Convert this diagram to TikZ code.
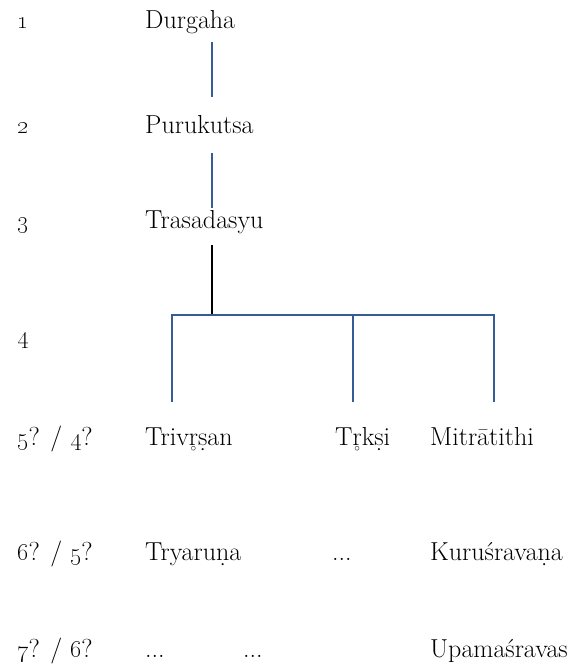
\documentclass[tikz,border=0pt]{standalone}
\usepackage{tikz}
\usetikzlibrary{positioning,calc}
\definecolor{lineblue}{RGB}{54,92,150}

% r with a ring below
\newcommand\ringbelow[1]{\leavevmode\raisebox{0pt}[\height][0pt]{\vtop{\offinterlineskip\halign{\hfil##\hfil\cr#1\cr\noalign{\kern1.5pt}\scalebox{0.45}{$\circ$}\cr}}}}

\tikzset{
  gen/.style={anchor=base west, inner sep=0pt, font=\fontsize{26}{30}\selectfont},
  tie/.style={lineblue, line width=1.6pt},
}

\begin{document}
\begin{tikzpicture}[x=1pt, y=-1pt]
        \useasboundingbox (0,0) rectangle (578,665);
        % generation numbers
        \node[gen] (g1) at (17,28) {\oldstylenums{1}};
        \node[gen] (g2) at (17,133) {\oldstylenums{2}};
        \node[gen] (g3) at (17,228) {\oldstylenums{3}};
        \node[gen] (g4) at (17,343) {\oldstylenums{4}};
        \node[gen] (g5) at (17,445) {\oldstylenums{5}? / \oldstylenums{4}?};
        \node[gen] (g6) at (17,560) {\oldstylenums{6}? / \oldstylenums{5}?};
        \node[gen] (g7) at (17,657) {\oldstylenums{7}? / \oldstylenums{6}?};
        % names
        \node[gen] (durgaha) at (145,28) {Durgaha};
        \node[gen] (purukutsa) at (145,133) {Purukutsa};
        \node[gen] (trasadasyu) at (145,228) {Trasadasyu};
        \node[gen] (trivrsan) at (145,445) {Triv\ringbelow{r}\d{s}an};
        \node[gen] (trksi) at (335,445) {T\ringbelow{r}k\d{s}i};
        \node[gen] (mitratithi) at (430,445) {Mitr\=atithi};
        \node[gen] (tryaruna) at (145,560) {Tryaru\d{n}a};
        \node[gen] (dotsa) at (332,560) {...};
        \node[gen] (kurusravana) at (430,560) {Kuru\'srava\d{n}a};
        \node[gen] (dotsb) at (145,657) {...};
        \node[gen] (dotsc) at (243,657) {...};
        \node[gen] (upamasravas) at (430,657) {Upama\'sravas};
        % lines of descent
        \coordinate (d1) at (212,42);   \coordinate (p1) at (212,97);
        \coordinate (p2) at (212,153);  \coordinate (t1) at (212,208);
        \coordinate (t2) at (212,245);  \coordinate (fork) at (212,315);
        \coordinate (left) at (172,315); \coordinate (mid) at (353,315);
        \coordinate (right) at (494,315);
        \draw[tie] (d1) -- (p1);
        \draw[tie] (p2) -- (t1);
        \draw[line width=1.6pt] (t2) -- (fork);
        \draw[tie] (left |- 0,402) -- (left) -- (right) -- (right |- 0,402);
        \draw[tie] (mid) -- (mid |- 0,402);
    \end{tikzpicture}
\end{document}
